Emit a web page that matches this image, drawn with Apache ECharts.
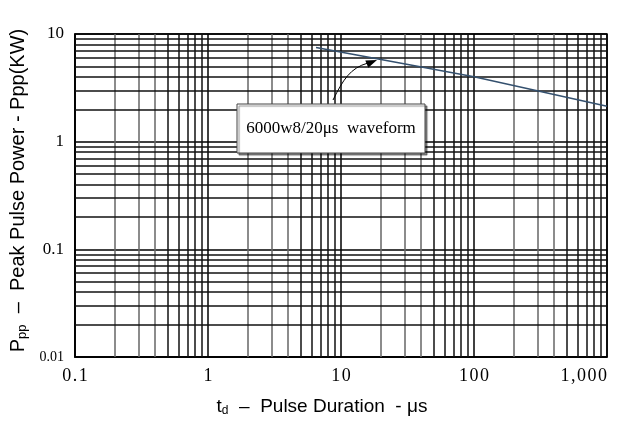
<!DOCTYPE html>
<html><head><meta charset="utf-8">
<script src="https://cdn.jsdelivr.net/npm/echarts@6/dist/echarts.min.js"></script>
<style>html,body{margin:0;padding:0;background:#fff}#c{width:618px;height:428px}</style>
</head><body><div id="c"></div>
<script>
// Data (log-log)
const durations = [6.5, 20, 100, 1000];      // td (µs)
const powers = [7.5, 5.8, 4.0, 2.13];        // Ppp (kW)
const xTickLabels = ['0.1', '1', '10', '100', '1,000'];
const yTickLabels = ['0.01', '0.1', '1', '10'];
const xGridLight = [0.2, 0.3, 0.4, 2, 3, 4, 20, 30, 40, 200, 300, 400];
const xGridDark = [0.5, 0.6, 0.7, 0.8, 0.9, 5, 6, 7, 8, 9, 50, 60, 70, 80, 90, 500, 600, 700, 800, 900];
const yGridValues = [0.02, 0.03, 0.04, 0.05, 0.06, 0.07, 0.08, 0.09,
  0.2, 0.3, 0.4, 0.5, 0.6, 0.7, 0.8, 0.9,
  2, 3, 4, 5, 6, 7, 8, 9];
const annotationText = '6000w8/20\u03bcs  waveform';

const chart = echarts.init(document.getElementById('c'), null, {renderer: 'canvas'});
const serif = '"Liberation Serif", "Times New Roman", serif';
const sans = '"Liberation Sans", Arial, sans-serif';
const dec = v => Math.round(Math.log10(v));
const spaced = s => s.split('').join('\u200a');

const gridLines = [];
xGridLight.forEach(v => gridLines.push({xAxis: v, lineStyle: {color: '#666'}}));
xGridDark.forEach(v => gridLines.push({xAxis: v, lineStyle: {color: '#111'}}));
yGridValues.forEach(v => gridLines.push({yAxis: v, lineStyle: {color: '#111'}}));

chart.setOption({
  animation: false,
  backgroundColor: '#fff',
  grid: {left: 71, right: 11, top: 34, bottom: 71, show: true, borderColor: '#000', borderWidth: 1.5, backgroundColor: 'transparent'},
  xAxis: {
    type: 'log', logBase: 10, min: 0.1, max: 1000,
    axisLine: {show: true, lineStyle: {color: '#000', width: 1.5}},
    axisTick: {show: false},
    splitLine: {show: true, lineStyle: {color: '#000', width: 1.5}},
    axisLabel: {
      color: '#000', fontFamily: serif, fontSize: 18, margin: 10,
      alignMaxLabel: 'right',
      formatter: v => spaced(xTickLabels[dec(v) + 1])
    },
    name: '{t|t}{sub|d}{t|  \u2013  Pulse Duration  - \u03bcs}',
    nameLocation: 'middle', nameGap: 40,
    nameTextStyle: {
      padding: [0, 38, 0, 0],
      rich: {
        t: {fontFamily: sans, fontSize: 19, color: '#000'},
        sub: {fontFamily: sans, fontSize: 12, color: '#000', verticalAlign: 'bottom', padding: [8, 0, 0, 0]}
      }
    }
  },
  yAxis: {
    type: 'log', logBase: 10, min: 0.01, max: 10,
    axisLine: {show: true, lineStyle: {color: '#000', width: 1.5}},
    axisTick: {show: false},
    splitLine: {show: true, lineStyle: {color: '#000', width: 1.5}},
    axisLabel: {
      color: '#000', fontFamily: serif, fontSize: 17, margin: 11,
      formatter: v => { const s = yTickLabels[dec(v) + 2]; return s === '0.01' ? '{s|' + s + '}' : s; },
      rich: {s: {fontFamily: serif, fontSize: 14, color: '#000'}}
    },
    name: '{t|P}{sub|pp}{t|  \u2013  Peak Pulse Power - Ppp(KW)}',
    nameLocation: 'middle', nameGap: 40, nameRotate: 90,
    nameTextStyle: {
      padding: [0, 0, 0, 10],
      rich: {
        t: {fontFamily: sans, fontSize: 20, color: '#000'},
        sub: {fontFamily: sans, fontSize: 13, color: '#000', verticalAlign: 'bottom', padding: [8, 0, 0, 0]}
      }
    }
  },
  series: [
    {
      name: 'grid', type: 'line', data: [], silent: true, z: 1,
      markLine: {
        silent: true, symbol: ['none', 'none'], label: {show: false},
        lineStyle: {type: 'solid', width: 1.5, color: '#111'},
        emphasis: {disabled: true},
        data: gridLines
      }
    },
    {
      name: 'Ppp', type: 'line', z: 5,
      data: durations.map((d, i) => [d, powers[i]]),
      showSymbol: false, symbol: 'none',
      lineStyle: {color: '#34506e', width: 1.5}
    }
  ],
  graphic: [
    {type: 'rect', shape: {x: 237, y: 104, width: 188, height: 49}, z: 100,
      style: {fill: '#fff', stroke: '#444', lineWidth: 1, shadowColor: 'rgba(0,0,0,0.45)', shadowOffsetX: 2, shadowOffsetY: 2, shadowBlur: 1}},
    {type: 'text', x: 331, y: 129, z: 101,
      style: {text: annotationText, font: '17px ' + serif, fill: '#000', textAlign: 'center', textVerticalAlign: 'middle'}},
    {type: 'bezierCurve', z: 101,
      shape: {x1: 333, y1: 100, cpx1: 343, cpy1: 80, cpx2: 350, cpy2: 68, x2: 368, y2: 63},
      style: {stroke: '#000', lineWidth: 1, fill: null}},
    {type: 'polygon', z: 101,
      shape: {points: [[377, 60], [365.3, 60.4], [368.3, 67.8]]},
      style: {fill: '#000'}}
  ]
});
</script></body></html>
